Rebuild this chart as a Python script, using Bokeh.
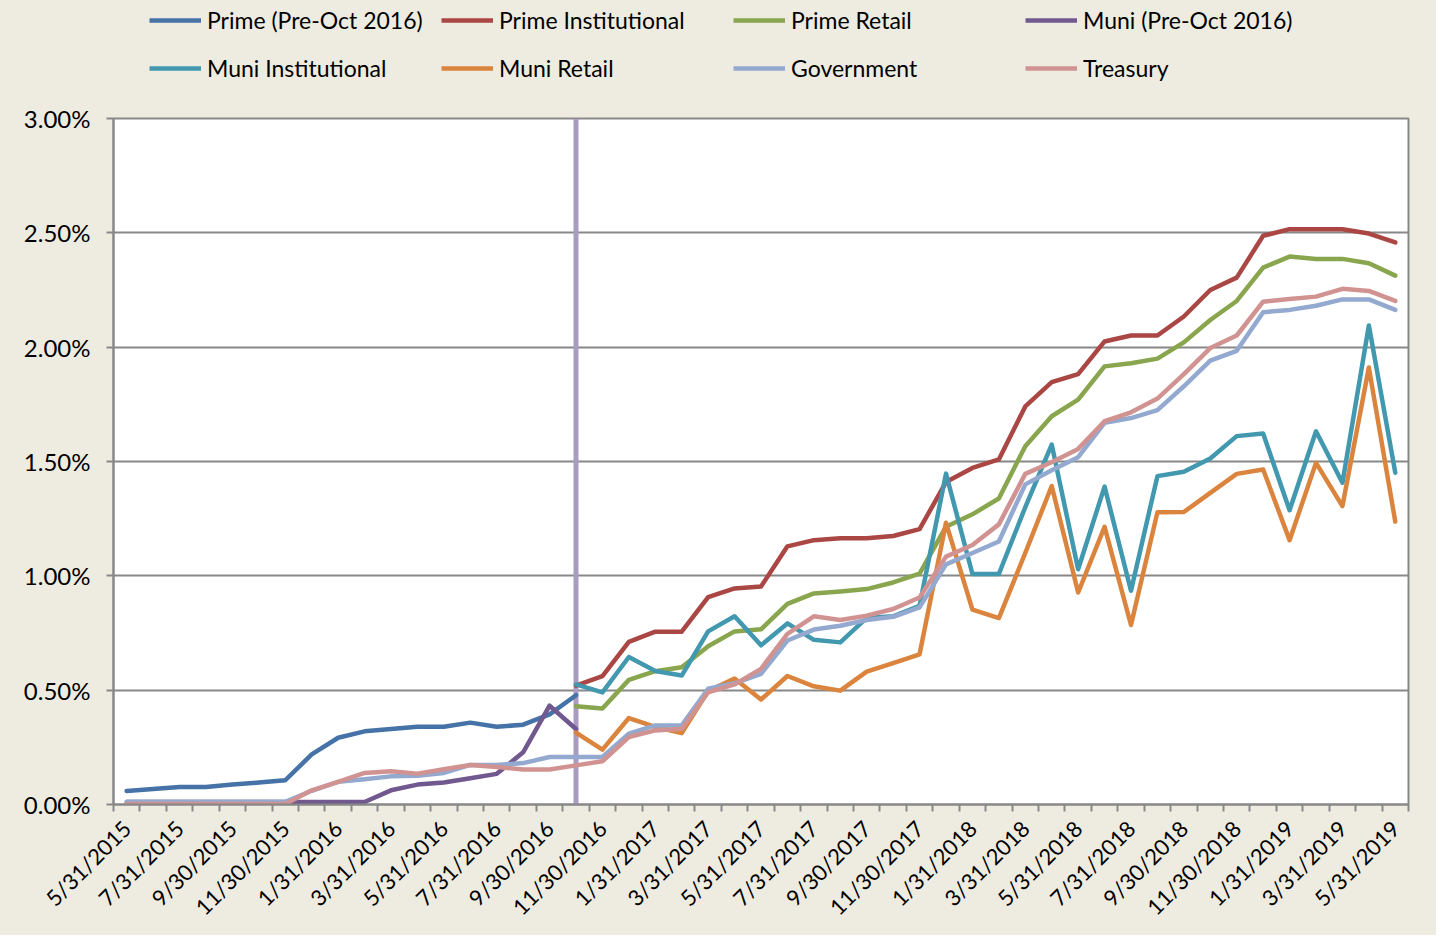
import numpy as np
from math import pi
from bokeh.plotting import figure
from bokeh.layouts import column
from bokeh.models import (FixedTicker, PrintfTickFormatter, Span, Legend,
                          LegendItem, Range1d)
from bokeh.embed import file_html
from bokeh.resources import INLINE

# ---------------- data ----------------
dates = [
    "5/31/2015", "6/30/2015", "7/31/2015", "8/31/2015", "9/30/2015", "10/31/2015",
    "11/30/2015", "12/31/2015", "1/31/2016", "2/29/2016", "3/31/2016", "4/30/2016",
    "5/31/2016", "6/30/2016", "7/31/2016", "8/31/2016", "9/30/2016", "10/31/2016",
    "11/30/2016", "12/31/2016", "1/31/2017", "2/28/2017", "3/31/2017", "4/30/2017",
    "5/31/2017", "6/30/2017", "7/31/2017", "8/31/2017", "9/30/2017", "10/31/2017",
    "11/30/2017", "12/31/2017", "1/31/2018", "2/28/2018", "3/31/2018", "4/30/2018",
    "5/31/2018", "6/30/2018", "7/31/2018", "8/31/2018", "9/30/2018", "10/31/2018",
    "11/30/2018", "12/31/2018", "1/31/2019", "2/28/2019", "3/31/2019", "4/30/2019",
    "5/31/2019",
]
cutoff_label = "10/31/2016"   # reform date (vertical marker)

# series that end at the Oct 2016 reform (5/31/2015 .. 10/31/2016)
prime_pre = [0.059, 0.068, 0.077, 0.077, 0.087, 0.096, 0.106, 0.219, 0.292, 0.320,
             0.330, 0.340, 0.340, 0.358, 0.340, 0.349, 0.394, 0.478]
muni_pre = [0.011, 0.011, 0.011, 0.011, 0.011, 0.011, 0.011, 0.011, 0.011, 0.011,
            0.062, 0.087, 0.096, 0.115, 0.134, 0.228, 0.432, 0.330]

# series that start at the reform (10/31/2016 .. 5/31/2019)
prime_inst = [0.520, 0.561, 0.711, 0.756, 0.756, 0.907, 0.945, 0.953, 1.129, 1.156,
              1.164, 1.164, 1.174, 1.204, 1.410, 1.472, 1.509, 1.741, 1.847, 1.882,
              2.025, 2.051, 2.051, 2.134, 2.250, 2.304, 2.487, 2.516, 2.516, 2.516,
              2.497, 2.458]
prime_retail = [0.430, 0.420, 0.545, 0.583, 0.600, 0.692, 0.757, 0.766, 0.877, 0.923,
                0.932, 0.942, 0.971, 1.010, 1.215, 1.269, 1.338, 1.567, 1.698, 1.771,
                1.916, 1.930, 1.950, 2.021, 2.119, 2.202, 2.348, 2.396, 2.386, 2.386,
                2.367, 2.313]
muni_inst = [0.525, 0.490, 0.645, 0.584, 0.564, 0.757, 0.823, 0.696, 0.792, 0.720,
             0.709, 0.816, 0.823, 0.869, 1.447, 1.008, 1.008, 1.300, 1.574, 1.029,
             1.390, 0.935, 1.436, 1.455, 1.513, 1.611, 1.622, 1.287, 1.632, 1.407,
             2.095, 1.451]
muni_retail = [0.314, 0.240, 0.378, 0.339, 0.312, 0.496, 0.551, 0.459, 0.562, 0.517,
               0.498, 0.581, 0.618, 0.657, 1.232, 0.852, 0.815, 1.100, 1.393, 0.927,
               1.214, 0.785, 1.278, 1.279, 1.363, 1.446, 1.465, 1.156, 1.494, 1.305,
               1.911, 1.237]

# full-period series (5/31/2015 .. 5/31/2019)
government = [0.012, 0.012, 0.012, 0.012, 0.012, 0.012, 0.012, 0.060, 0.099, 0.110,
              0.123, 0.126, 0.138, 0.173, 0.173, 0.181, 0.208, 0.208, 0.208, 0.310,
              0.346, 0.346, 0.506, 0.530, 0.571, 0.717, 0.765, 0.782, 0.807, 0.821,
              0.862, 1.050, 1.100, 1.150, 1.400, 1.462, 1.519, 1.669, 1.690, 1.725,
              1.829, 1.941, 1.984, 2.153, 2.163, 2.181, 2.209, 2.209, 2.163]
treasury = [0.002, 0.002, 0.002, 0.002, 0.002, 0.002, 0.002, 0.062, 0.099, 0.138,
            0.145, 0.135, 0.154, 0.173, 0.164, 0.153, 0.153, 0.171, 0.189, 0.295,
            0.324, 0.331, 0.491, 0.525, 0.593, 0.746, 0.823, 0.807, 0.826, 0.855,
            0.905, 1.084, 1.135, 1.225, 1.446, 1.497, 1.555, 1.676, 1.715, 1.775,
            1.882, 1.996, 2.051, 2.199, 2.211, 2.221, 2.255, 2.246, 2.202]

y_ticks = [0.0, 0.5, 1.0, 1.5, 2.0, 2.5, 3.0]

# ---------------- helpers ----------------
n = len(dates)
xs = list(range(n))
cut = dates.index(cutoff_label)


def full(vals, start):
    arr = [np.nan] * n
    arr[start:start + len(vals)] = vals
    return arr


series = [
    ("Prime (Pre-Oct 2016)", full(prime_pre, 0), "#4572A7"),
    ("Prime Institutional", full(prime_inst, cut), "#AA4643"),
    ("Prime Retail", full(prime_retail, cut), "#89A54E"),
    ("Muni (Pre-Oct 2016)", full(muni_pre, 0), "#71588F"),
    ("Muni Institutional", full(muni_inst, cut), "#4198AF"),
    ("Muni Retail", full(muni_retail, cut), "#DB843D"),
    ("Government", full(government, 0), "#93A9CF"),
    ("Treasury", full(treasury, 0), "#D19392"),
]

FONT = "Lato"
GRAY = "#888888"
BG = "#EEECE1"
W = 1436
LEG_H = 100
MAIN_H = 935 - LEG_H
LW = 4.5
FRAME_LEFT = 113

# ---------------- main chart ----------------
p = figure(width=W, height=MAIN_H, output_backend="svg", toolbar_location=None,
           x_range=Range1d(-0.5, n - 0.5), y_range=Range1d(0, 3))
p.min_border_left = FRAME_LEFT
p.min_border_right = W - 1408
p.min_border_top = 118 - LEG_H
p.min_border_bottom = 131
p.border_fill_color = BG
p.background_fill_color = "white"
p.outline_line_color = GRAY
p.outline_line_width = 2

p.xgrid.visible = False
p.ygrid.ticker = FixedTicker(ticks=y_ticks)
p.ygrid.grid_line_color = GRAY
p.ygrid.grid_line_width = 2

ya = p.yaxis[0]
ya.ticker = FixedTicker(ticks=y_ticks)
ya.formatter = PrintfTickFormatter(format="%.2f%%")
ya.axis_line_color = GRAY
ya.axis_line_width = 2
ya.major_tick_line_color = GRAY
ya.major_tick_line_width = 2
ya.major_tick_out = 7
ya.major_tick_in = 0
ya.minor_tick_line_color = None
ya.major_label_standoff = 16
ya.major_label_text_font = FONT
ya.major_label_text_font_size = "24px"
ya.major_label_text_color = "black"

xa = p.xaxis[0]
xa.ticker = FixedTicker(ticks=list(range(0, n, 2)),
                        minor_ticks=[i - 0.5 for i in range(n + 1)])
xa.major_label_overrides = {i: dates[i] for i in range(0, n, 2)}
xa.major_label_orientation = pi / 4
xa.axis_line_color = GRAY
xa.axis_line_width = 2
xa.major_tick_line_color = None
xa.major_tick_out = 0
xa.major_tick_in = 0
xa.minor_tick_line_color = GRAY
xa.minor_tick_line_width = 2
xa.minor_tick_out = 7
xa.minor_tick_in = 0
xa.major_label_standoff = 13
xa.major_label_text_font = FONT
xa.major_label_text_font_size = "22px"
xa.major_label_text_color = "black"

span = Span(location=cut, dimension="height", line_color="#A99BC1", line_width=5,
            level="underlay")
p.add_layout(span)

for name, ys, color in series:
    p.line(xs, ys, line_color=color, line_width=LW, line_join="round",
           line_cap="round")

# ---------------- legend strip ----------------
lp = figure(width=W, height=LEG_H, output_backend="svg", toolbar_location=None,
            x_axis_type=None, y_axis_type=None, min_border=0,
            x_range=Range1d(0, 1), y_range=Range1d(0, 1))
lp.border_fill_color = BG
lp.background_fill_color = BG
lp.outline_line_color = None
lp.xgrid.visible = False
lp.ygrid.visible = False

leg_items = []
for name, ys, color in series:
    # proxy renderer outside the visible range: only its legend swatch shows
    r = lp.line([5, 6], [5, 6], line_color=color, line_width=LW)
    leg_items.append(LegendItem(label=name, renderers=[r]))


def make_legend(items, loc):
    lg = Legend(items=items, location=loc, orientation="horizontal")
    lg.padding = 0
    lg.margin = 0
    lg.spacing = 0
    lg.glyph_width = 52
    lg.glyph_height = 28
    lg.label_width = 234
    lg.label_height = 28
    lg.label_standoff = 6
    lg.label_text_font = FONT
    lg.label_text_font_size = "23px"
    lg.label_text_color = "black"
    lg.label_text_baseline = "middle"
    lg.border_line_color = None
    lg.background_fill_alpha = 0
    return lg


lp.add_layout(make_legend(leg_items[:4], (149 - FRAME_LEFT, LEG_H - 34)), "center")
lp.add_layout(make_legend(leg_items[4:], (149 - FRAME_LEFT, LEG_H - 82)), "center")

layout = column(lp, p, spacing=0, styles={"background-color": BG})
open("out.html", "w").write(file_html(layout, INLINE))
